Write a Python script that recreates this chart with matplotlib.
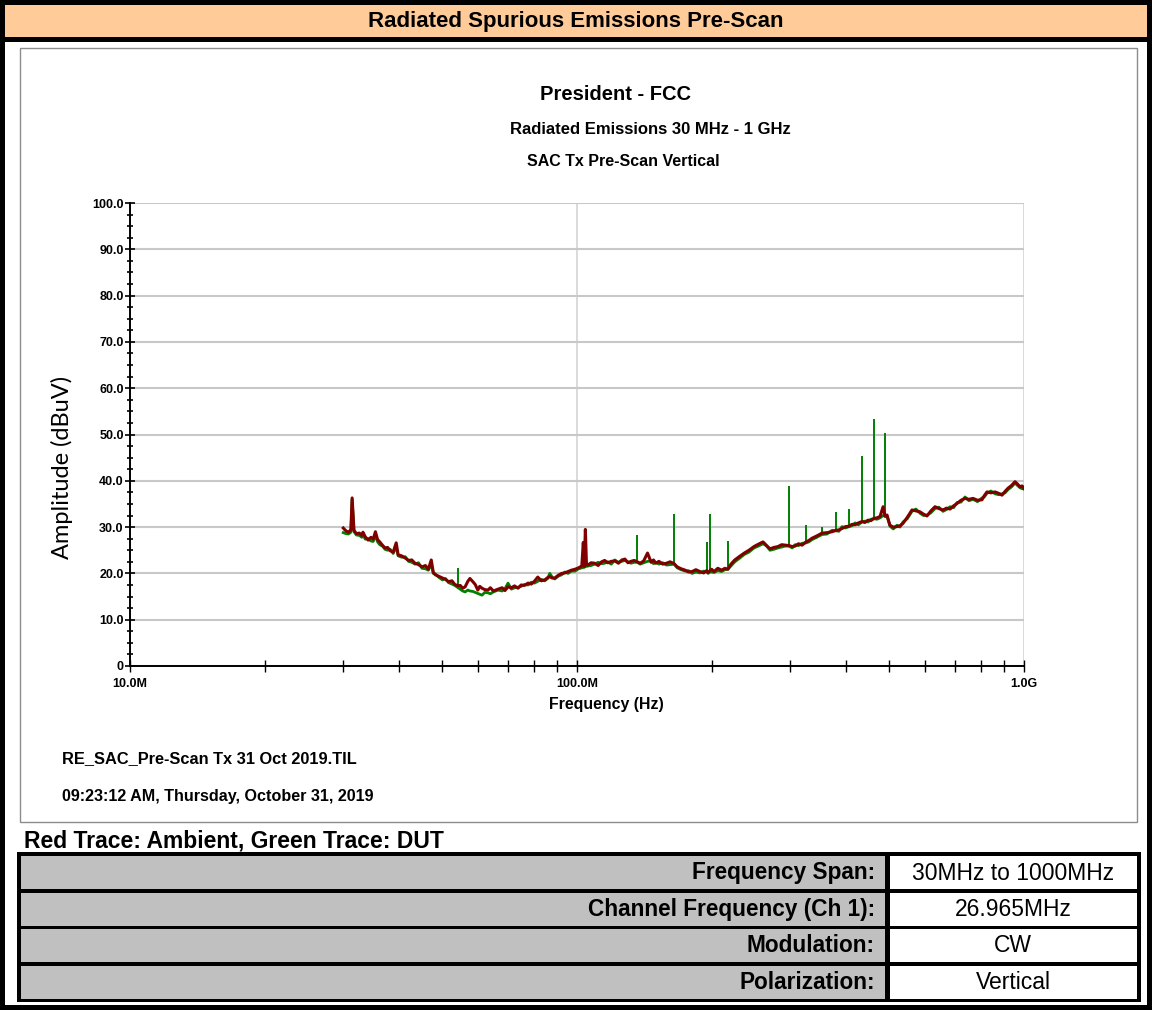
import numpy as np
import matplotlib.pyplot as plt
from matplotlib.patches import Rectangle
from matplotlib.ticker import FixedLocator, NullFormatter

plt.rcParams['font.family'] = ['Liberation Sans', 'DejaVu Sans']

# Traces, frequency in MHz, amplitude in dBuV
FREQ_MHZ = [
    30.0, 30.4, 30.8, 31.2, 31.4, 31.7, 32.1, 32.6, 33.0, 33.2,
    33.6, 34.1, 34.6, 35.0, 35.4, 35.8, 36.2, 36.7, 37.2, 37.7,
    38.2, 38.8, 39.4, 39.8, 40.5, 41.3, 42.0, 42.7, 43.4, 44.2,
    45.0, 45.8, 46.5, 47.2, 47.7, 48.2, 49.0, 50.0, 50.8, 51.6,
    52.5, 53.3, 54.2, 54.8, 55.5, 56.2, 57.0, 57.6, 58.5, 59.2,
    60.0, 60.6, 61.3, 62.2, 63.2, 64.0, 65.0, 66.6, 68.0, 69.0,
    70.1, 71.3, 72.5, 73.8, 75.0, 76.3, 77.7, 79.0, 80.3, 81.7,
    83.2, 84.7, 86.0, 86.9, 88.0, 89.2, 90.8, 92.4, 94.0, 95.5,
    97.2, 99.0, 100.8, 102.5, 103.3, 103.8, 104.4, 105.0, 105.8, 107.5,
    109.5, 111.5, 113.5, 115.3, 117.1, 119.3, 121.5, 123.8, 126.0, 128.0,
    130.0, 132.0, 134.3, 136.3, 138.5, 141.0, 143.8, 146.5, 148.3, 150.1,
    152.5, 155.5, 158.6, 161.5, 164.9, 167.6, 171.0, 174.6, 177.5, 180.9,
    184.5, 188.3, 192.0, 195.0, 196.5, 198.0, 200.0, 202.6, 206.5, 210.6,
    214.3, 217.5, 221.0, 225.4, 230.5, 236.8, 242.5, 248.9, 254.5, 260.7,
    265.0, 270.3, 275.5, 281.7, 287.0, 292.1, 298.2, 303.0, 307.5, 313.0,
    318.8, 325.4, 330.0, 335.6, 344.0, 353.4, 362.5, 372.0, 379.7, 385.5,
    391.6, 398.5, 406.0, 412.5, 418.8, 426.0, 434.1, 440.5, 447.7, 454.5,
    461.8, 469.0, 476.4, 483.9, 488.8, 493.9, 497.0, 501.3, 510.0, 519.8,
    528.0, 536.1, 548.0, 561.6, 573.0, 585.2, 596.0, 606.7, 619.0, 632.3,
    645.0, 658.9, 671.0, 683.2, 696.0, 708.3, 723.0, 738.1, 753.0, 769.1,
    787.0, 805.4, 815.0, 826.5, 843.0, 861.3, 877.0, 892.9, 907.0, 921.0,
    938.0, 954.8, 967.0, 979.6, 990.0, 1000.0,
]

AMBIENT_DBUV = [
    29.8, 29.2, 28.9, 29.4, 36.3, 29.3, 28.6, 28.7, 28.2, 28.9,
    27.9, 27.2, 27.8, 27.4, 29.0, 27.3, 26.8, 26.1, 25.5, 25.6,
    24.9, 24.6, 26.6, 24.0, 23.8, 23.3, 22.8, 22.9, 22.2, 21.9,
    21.4, 21.7, 20.9, 22.9, 20.2, 19.7, 19.4, 19.0, 18.7, 18.2,
    18.4, 17.6, 17.3, 17.4, 16.8, 17.1, 18.3, 18.9, 18.2, 17.6,
    16.4, 17.2, 16.8, 16.5, 16.4, 16.9, 16.2, 16.6, 16.9, 16.3,
    17.1, 16.9, 17.3, 16.8, 17.5, 17.4, 17.9, 17.7, 18.3, 19.2,
    18.4, 18.6, 19.1, 19.3, 19.0, 19.0, 19.6, 20.0, 20.1, 20.4,
    20.7, 20.9, 21.2, 21.6, 26.7, 21.5, 29.5, 21.9, 21.8, 22.3,
    22.2, 21.7, 22.5, 22.8, 22.3, 22.6, 22.7, 22.2, 22.9, 23.1,
    22.3, 22.6, 22.8, 22.5, 22.2, 22.7, 24.4, 22.4, 22.9, 22.2,
    22.6, 22.0, 22.2, 22.5, 22.1, 21.4, 21.0, 20.7, 20.3, 20.4,
    20.8, 20.4, 20.1, 20.6, 20.2, 20.5, 20.9, 20.4, 21.1, 20.7,
    21.1, 20.9, 22.0, 22.9, 23.6, 24.4, 25.0, 25.8, 26.3, 26.8,
    26.1, 25.3, 25.6, 25.8, 26.2, 26.1, 26.0, 25.8, 25.9, 26.4,
    26.1, 26.8, 27.1, 27.6, 28.1, 28.7, 28.8, 29.0, 29.3, 29.4,
    29.7, 30.1, 30.2, 30.6, 30.5, 30.9, 31.2, 31.0, 31.5, 31.4,
    31.9, 32.0, 32.3, 34.4, 32.4, 32.6, 31.6, 30.4, 30.0, 30.1,
    30.3, 30.8, 32.1, 33.7, 33.5, 33.3, 32.8, 32.4, 33.5, 34.4,
    34.0, 33.7, 34.1, 33.9, 34.6, 35.1, 35.8, 36.2, 36.0, 36.2,
    35.8, 35.9, 36.8, 37.6, 37.4, 37.6, 37.3, 36.9, 37.7, 38.4,
    39.0, 39.8, 39.3, 38.7, 38.9, 38.4,
]

DUT_DBUV = [
    28.8, 28.6, 28.5, 28.9, 36.0, 29.0, 28.3, 28.2, 27.8, 28.3,
    27.4, 27.5, 27.0, 26.9, 28.2, 26.8, 26.2, 25.9, 25.2, 25.0,
    25.2, 24.3, 25.8, 23.8, 23.5, 23.6, 22.6, 22.4, 22.0, 22.3,
    21.1, 21.0, 20.7, 22.0, 20.0, 19.9, 19.2, 18.6, 18.9, 18.0,
    17.7, 17.4, 16.9, 16.6, 16.2, 16.0, 16.4, 16.2, 16.1, 15.9,
    15.7, 15.5, 15.3, 15.9, 15.8, 15.6, 16.0, 16.4, 16.2, 16.7,
    17.9, 16.6, 16.9, 17.0, 17.2, 17.6, 17.5, 18.1, 17.9, 18.3,
    18.7, 18.4, 18.9, 20.0, 19.2, 18.8, 19.4, 19.7, 20.3, 20.0,
    20.5, 20.5, 21.0, 21.2, 21.4, 21.3, 22.0, 21.5, 21.6, 21.7,
    22.0, 22.4, 22.1, 22.2, 22.5, 22.0, 22.9, 22.4, 22.6, 22.8,
    22.5, 22.2, 22.4, 22.4, 22.0, 22.3, 22.6, 22.7, 22.1, 22.4,
    22.0, 22.3, 21.8, 21.9, 22.0, 21.2, 20.8, 20.5, 20.6, 20.0,
    20.3, 20.1, 20.5, 20.3, 20.0, 20.3, 20.3, 20.2, 20.6, 20.4,
    20.8, 20.9, 21.6, 22.5, 23.2, 24.1, 24.6, 25.5, 25.9, 26.4,
    26.0, 25.0, 25.2, 25.5, 25.7, 25.9, 25.9, 25.5, 26.2, 26.0,
    26.5, 26.6, 26.8, 27.3, 27.8, 28.4, 28.5, 29.3, 29.2, 29.1,
    30.1, 29.8, 30.1, 30.3, 30.9, 30.5, 31.1, 31.3, 31.1, 31.7,
    31.8, 31.7, 32.0, 32.5, 32.3, 32.3, 31.5, 30.2, 29.6, 30.4,
    30.0, 31.1, 31.8, 33.4, 33.9, 33.0, 32.5, 32.6, 33.1, 34.0,
    34.3, 33.4, 33.8, 34.4, 34.2, 35.3, 35.4, 36.5, 35.7, 36.0,
    35.5, 36.3, 36.5, 37.3, 37.8, 37.2, 37.0, 37.2, 37.4, 38.1,
    38.7, 39.5, 39.0, 38.5, 38.3, 38.2,
]

# narrow DUT emissions standing out of the noise floor
DUT_SPIKE_MHZ = [54.2, 136.3, 164.9, 195.0, 198.0, 217.5, 298.2, 325.4, 353.4,
                 379.7, 406.0, 434.1, 461.8, 488.8]
DUT_SPIKE_BASE = [16.9, 22.4, 22.0, 20.3, 20.3, 20.9, 25.9, 26.6, 28.4,
                  29.2, 30.1, 31.1, 31.8, 32.3]
DUT_SPIKE_TOP = [21.2, 28.3, 32.8, 26.8, 32.8, 26.9, 38.9, 30.5, 30.0,
                 33.3, 33.9, 45.4, 53.3, 50.4]

Y_TICKS = [0, 10, 20, 30, 40, 50, 60, 70, 80, 90, 100]
Y_TICK_LABELS = ['0', '10.0', '20.0', '30.0', '40.0', '50.0', '60.0', '70.0', '80.0', '90.0', '100.0']
X_TICKS_HZ = [1e7, 1e8, 1e9]
X_TICK_LABELS = ['10.0M', '100.0M', '1.0G']

TABLE_LABELS = ['Frequency Span:', 'Channel Frequency (Ch 1):', 'Modulation:', 'Polarization:']
TABLE_VALUES = ['30MHz to 1000MHz', '26.965MHz', 'CW', 'Vertical']

W, H = 1152, 1010
fig = plt.figure(figsize=(W / 100, H / 100), dpi=100)
fig.patch.set_facecolor('black')

# page layout drawn in pixel coordinates
bg = fig.add_axes([0, 0, 1, 1], zorder=0)
bg.set_xlim(0, W)
bg.set_ylim(H, 0)
bg.axis('off')

bg.add_patch(Rectangle((5, 5), W - 10, 32, facecolor='#FFCC99', edgecolor='none'))
bg.add_patch(Rectangle((5, 42), W - 10, H - 47, facecolor='white', edgecolor='none'))
bg.text(W / 2, 21, 'Radiated Spurious Emissions Pre-Scan', ha='center', va='center',
        fontsize=16, fontweight='bold')

# chart frame
bg.add_patch(Rectangle((20, 48), 1117, 774, facecolor='white', edgecolor='#8c8c8c', lw=1.0))
bg.text(615, 94, 'President - FCC', ha='center', va='center', fontsize=14.5, fontweight='bold')
bg.text(650, 129, 'Radiated Emissions 30 MHz - 1 GHz', ha='center', va='center', fontsize=12, fontweight='bold')
bg.text(623, 161, 'SAC Tx Pre-Scan Vertical', ha='center', va='center', fontsize=11.5, fontweight='bold')
bg.text(62, 467, 'Amplitude (dBuV)', ha='center', va='center', rotation=90, fontsize=17,
        family=['Lato', 'DejaVu Sans'])
bg.text(606, 704, 'Frequency (Hz)', ha='center', va='center', fontsize=11.4, fontweight='bold')
bg.text(62, 759, 'RE_SAC_Pre-Scan Tx 31 Oct 2019.TIL', ha='left', va='center', fontsize=11.8, fontweight='bold')
bg.text(62, 797, '09:23:12 AM, Thursday, October 31, 2019', ha='left', va='center', fontsize=11.6, fontweight='bold')

bg.text(24, 841, 'Red Trace: Ambient, Green Trace: DUT', ha='left', va='center', fontsize=16.5,
        fontweight='bold')

# parameter table
bg.add_patch(Rectangle((17, 852), 1124, 150, facecolor='black', edgecolor='none'))
row_top = 856
for label, value in zip(TABLE_LABELS, TABLE_VALUES):
    bg.add_patch(Rectangle((21, row_top), 864, 33, facecolor='#C0C0C0', edgecolor='none'))
    bg.add_patch(Rectangle((890, row_top), 247, 33, facecolor='white', edgecolor='none'))
    bg.text(875, row_top + 17, label, ha='right', va='center', fontsize=16.3, fontweight='bold')
    bg.text(1013, row_top + 17, value, ha='center', va='center', fontsize=16.5)
    row_top += 36.5

# the scan itself
ax = fig.add_axes([130 / W, 1 - 666 / H, 894 / W, 463 / H], zorder=1)
ax.patch.set_alpha(0)
freq_hz = np.array(FREQ_MHZ) * 1e6
ax.plot(freq_hz, DUT_DBUV, color='#008000', lw=2.0, zorder=3)
ax.vlines(np.array(DUT_SPIKE_MHZ) * 1e6, DUT_SPIKE_BASE, DUT_SPIKE_TOP, color='#008000', lw=1.4, zorder=3)
ax.plot(freq_hz, AMBIENT_DBUV, color='#800000', lw=2.2, zorder=4)

ax.set_xscale('log')
ax.set_xlim(1e7, 1e9)
ax.set_ylim(0, 100)

for side in ['top', 'right']:
    ax.spines[side].set_visible(False)
for side in ['left', 'bottom']:
    ax.spines[side].set_linewidth(1.4)
    ax.spines[side].set_zorder(5)

ax.set_yticks(Y_TICKS)
ax.set_yticklabels(Y_TICK_LABELS, fontsize=9, fontweight='bold')
ax.yaxis.set_minor_locator(FixedLocator(np.arange(0, 100.1, 2.5)))
ax.tick_params(axis='y', which='major', direction='inout', length=7, width=1.2, pad=1)
ax.tick_params(axis='y', which='minor', direction='inout', length=5, width=1.2)

ax.xaxis.set_major_locator(FixedLocator(X_TICKS_HZ))
ax.set_xticklabels(X_TICK_LABELS, fontsize=9, fontweight='bold')
minor_x = [m * d for d in [1e7, 1e8] for m in range(2, 10)]
ax.xaxis.set_minor_locator(FixedLocator(minor_x))
ax.xaxis.set_minor_formatter(NullFormatter())
ax.tick_params(axis='x', which='both', direction='inout', length=9, width=1.0, pad=4)

ax.grid(axis='y', which='major', color='#c8c8c8', lw=1.5, zorder=0)
ax.grid(axis='x', which='major', color='#d4d4d4', lw=1.2, zorder=0)
ax.set_axisbelow(True)

fig.savefig('out.png', dpi=100, facecolor='black')
